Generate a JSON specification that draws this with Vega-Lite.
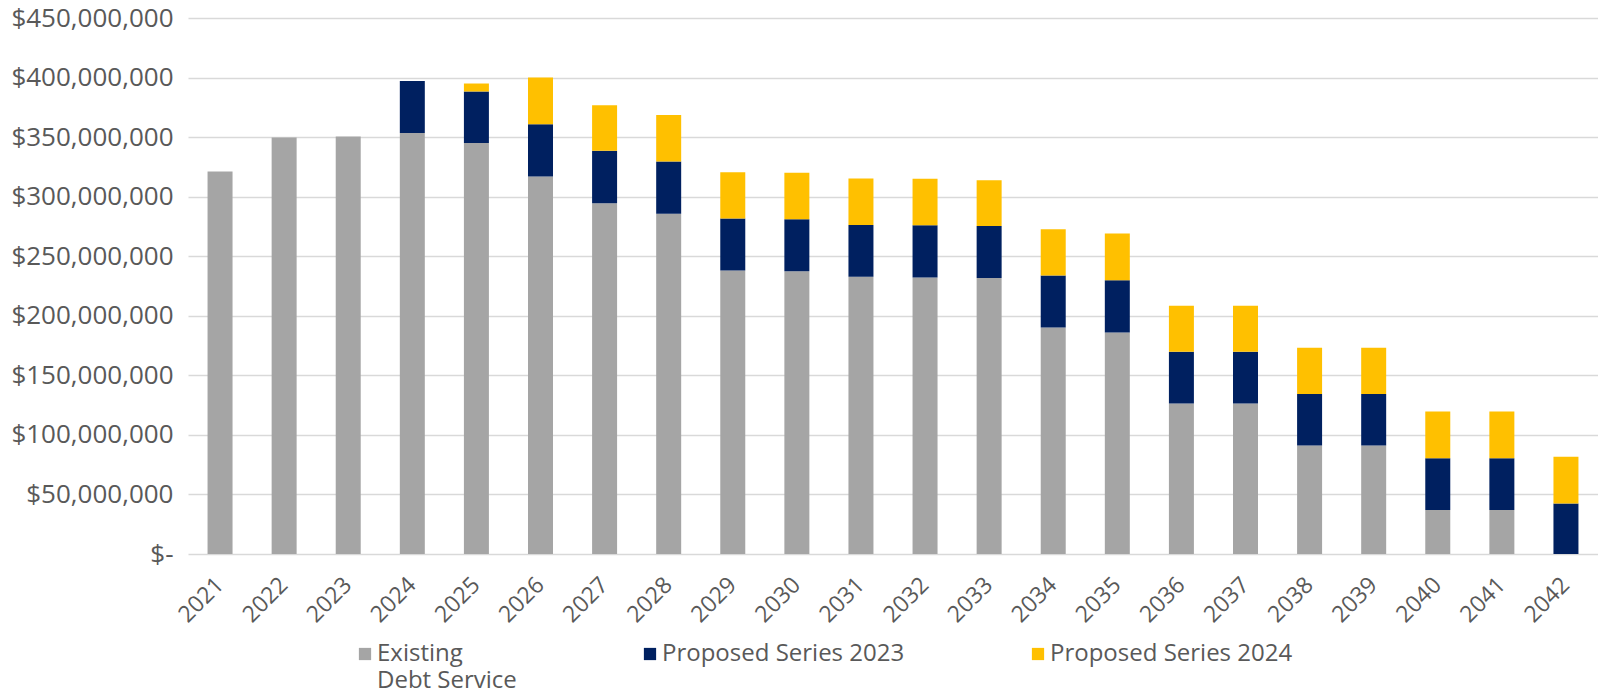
{
  "$schema": "https://vega.github.io/schema/vega-lite/v6.json",
  "width": 1410,
  "height": 536,
  "autosize": {"type": "none"},
  "padding": {"left": 188, "top": 18, "right": 0, "bottom": 140},
  "background": "white",
  "config": {
    "view": {"stroke": null},
    "font": "Open Sans",
    "style": {"guide-label": {"lineHeight": 27}}
  },
  "data": {
    "values": [
      {"year": "2021", "series": "Existing Debt Service", "value": 321200000},
      {"year": "2022", "series": "Existing Debt Service", "value": 349700000},
      {"year": "2023", "series": "Existing Debt Service", "value": 350600000},
      {"year": "2024", "series": "Existing Debt Service", "value": 353400000},
      {"year": "2024", "series": "Proposed Series 2023", "value": 43800000},
      {"year": "2025", "series": "Existing Debt Service", "value": 345000000},
      {"year": "2025", "series": "Proposed Series 2023", "value": 43300000},
      {"year": "2025", "series": "Proposed Series 2024", "value": 6700000},
      {"year": "2026", "series": "Existing Debt Service", "value": 317000000},
      {"year": "2026", "series": "Proposed Series 2023", "value": 43900000},
      {"year": "2026", "series": "Proposed Series 2024", "value": 39100000},
      {"year": "2027", "series": "Existing Debt Service", "value": 294400000},
      {"year": "2027", "series": "Proposed Series 2023", "value": 44100000},
      {"year": "2027", "series": "Proposed Series 2024", "value": 38300000},
      {"year": "2028", "series": "Existing Debt Service", "value": 285700000},
      {"year": "2028", "series": "Proposed Series 2023", "value": 43800000},
      {"year": "2028", "series": "Proposed Series 2024", "value": 39100000},
      {"year": "2029", "series": "Existing Debt Service", "value": 238000000},
      {"year": "2029", "series": "Proposed Series 2023", "value": 43600000},
      {"year": "2029", "series": "Proposed Series 2024", "value": 39000000},
      {"year": "2030", "series": "Existing Debt Service", "value": 237400000},
      {"year": "2030", "series": "Proposed Series 2023", "value": 43600000},
      {"year": "2030", "series": "Proposed Series 2024", "value": 39100000},
      {"year": "2031", "series": "Existing Debt Service", "value": 232700000},
      {"year": "2031", "series": "Proposed Series 2023", "value": 43600000},
      {"year": "2031", "series": "Proposed Series 2024", "value": 39000000},
      {"year": "2032", "series": "Existing Debt Service", "value": 232100000},
      {"year": "2032", "series": "Proposed Series 2023", "value": 43900000},
      {"year": "2032", "series": "Proposed Series 2024", "value": 39000000},
      {"year": "2033", "series": "Existing Debt Service", "value": 231700000},
      {"year": "2033", "series": "Proposed Series 2023", "value": 43700000},
      {"year": "2033", "series": "Proposed Series 2024", "value": 38400000},
      {"year": "2034", "series": "Existing Debt Service", "value": 190200000},
      {"year": "2034", "series": "Proposed Series 2023", "value": 43600000},
      {"year": "2034", "series": "Proposed Series 2024", "value": 38800000},
      {"year": "2035", "series": "Existing Debt Service", "value": 186000000},
      {"year": "2035", "series": "Proposed Series 2023", "value": 43900000},
      {"year": "2035", "series": "Proposed Series 2024", "value": 39100000},
      {"year": "2036", "series": "Existing Debt Service", "value": 126300000},
      {"year": "2036", "series": "Proposed Series 2023", "value": 43500000},
      {"year": "2036", "series": "Proposed Series 2024", "value": 38600000},
      {"year": "2037", "series": "Existing Debt Service", "value": 126300000},
      {"year": "2037", "series": "Proposed Series 2023", "value": 43500000},
      {"year": "2037", "series": "Proposed Series 2024", "value": 38600000},
      {"year": "2038", "series": "Existing Debt Service", "value": 91100000},
      {"year": "2038", "series": "Proposed Series 2023", "value": 43300000},
      {"year": "2038", "series": "Proposed Series 2024", "value": 38800000},
      {"year": "2039", "series": "Existing Debt Service", "value": 91100000},
      {"year": "2039", "series": "Proposed Series 2023", "value": 43300000},
      {"year": "2039", "series": "Proposed Series 2024", "value": 38800000},
      {"year": "2040", "series": "Existing Debt Service", "value": 36900000},
      {"year": "2040", "series": "Proposed Series 2023", "value": 43500000},
      {"year": "2040", "series": "Proposed Series 2024", "value": 39200000},
      {"year": "2041", "series": "Existing Debt Service", "value": 36900000},
      {"year": "2041", "series": "Proposed Series 2023", "value": 43500000},
      {"year": "2041", "series": "Proposed Series 2024", "value": 39200000},
      {"year": "2042", "series": "Proposed Series 2023", "value": 42500000},
      {"year": "2042", "series": "Proposed Series 2024", "value": 39100000}
    ]
  },
  "mark": {"type": "bar"},
  "encoding": {
    "x": {
      "field": "year",
      "type": "ordinal",
      "title": null,
      "scale": {"paddingInner": 0.61, "paddingOuter": 0.305},
      "axis": {
        "labelAngle": -45,
        "labelAlign": "right",
        "labelBaseline": "middle",
        "labelFontSize": 23,
        "labelColor": "#595959",
        "labelPadding": 27,
        "domain": false,
        "ticks": false
      }
    },
    "y": {
      "field": "value",
      "type": "quantitative",
      "stack": "zero",
      "title": null,
      "scale": {"domain": [0, 450000000], "nice": false},
      "axis": {
        "values": [0, 50000000, 100000000, 150000000, 200000000, 250000000, 300000000, 350000000, 400000000, 450000000],
        "labelExpr": "datum.value == 0 ? '$-\u00a0\u00a0\u00a0' : '$' + format(datum.value, ',')",
        "labelFontSize": 26,
        "labelColor": "#595959",
        "labelPadding": 15,
        "grid": true,
        "gridColor": "#d9d9d9",
        "gridWidth": 1.5,
        "domain": false,
        "ticks": false
      }
    },
    "order": {"field": "series", "sort": "ascending"},
    "color": {
      "field": "series",
      "type": "nominal",
      "scale": {
        "domain": ["Existing Debt Service", "Proposed Series 2023", "Proposed Series 2024"],
        "range": ["#a5a5a5", "#002060", "#ffc000"]
      },
      "legend": {
        "orient": "none",
        "legendX": 165,
        "legendY": 624,
        "direction": "horizontal",
        "columns": 3,
        "columnPadding": 121,
        "title": null,
        "symbolType": "square",
        "symbolSize": 150,
        "symbolStrokeWidth": 0,
        "labelFontSize": 24,
        "labelColor": "#595959",
        "labelOffset": 0,
        "labelLimit": 400,
        "labelBaseline": "middle",
        "labelExpr": "datum.label == 'Existing Debt Service' ? ['Existing', 'Debt Service'] : [datum.label, '\u00a0']"
      }
    }
  }
}
